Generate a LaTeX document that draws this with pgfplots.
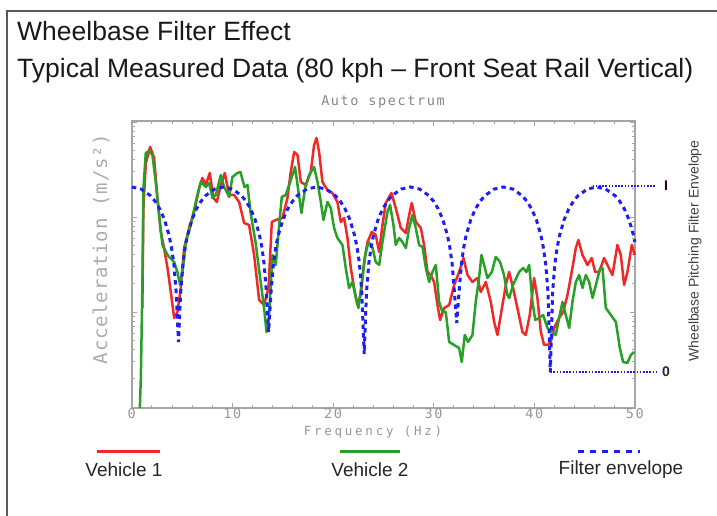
\documentclass[border=0pt]{standalone}
\usepackage{pgfplots}
\pgfplotsset{compat=1.18}
\usepackage{fontspec}
\setmainfont{Liberation Sans}
\newfontfamily\monof{DejaVu Sans Mono}[LetterSpace=22]
\newfontfamily\monot{DejaVu Sans Mono}[LetterSpace=12]
\newfontfamily\monoy{DejaVu Sans Mono}[LetterSpace=4]
\definecolor{vred}{RGB}{240,40,40}
\definecolor{vgreen}{RGB}{40,160,40}
\definecolor{vblue}{RGB}{30,30,245}
\definecolor{axgray}{RGB}{165,165,165}
\definecolor{txgray}{RGB}{150,150,150}
\begin{document}
\begin{tikzpicture}[x=1bp,y=1bp]
\path[use as bounding box] (0,0) rectangle (717,516);
\draw[black!65, line width=1.3bp] (7,0) -- (7,505) -- (717,505);
\node[anchor=base west, inner sep=0pt, font=\fontsize{26.5bp}{30bp}\selectfont, text=black!90] at (17,475) {Wheelbase Filter Effect};
\node[anchor=base west, inner sep=0pt, font=\fontsize{26.5bp}{30bp}\selectfont, text=black!90] at (17,438) {Typical Measured Data (80 kph – Front Seat Rail Vertical)};
\node[font=\monot\fontsize{13.5bp}{13bp}\selectfont, text=txgray!90!black] at (383,414) {Auto spectrum};
\node[font=\monof\fontsize{12.5bp}{12bp}\selectfont, text=txgray, inner sep=1bp] at (373,84) {Frequency (Hz)};
\node[rotate=90, font=\monoy\fontsize{19bp}{19bp}\selectfont, text=txgray!80] at (101,267) {Acceleration (m/s²)};
\node[rotate=90, font=\fontsize{14bp}{14bp}\selectfont, text=black!75] at (695,265) {Wheelbase Pitching Filter Envelope};
\begin{axis}[
  at={(131,108)}, anchor=south west,
  scale only axis, width=503bp, height=287bp,
  xmin=0, xmax=50, ymin=0, ymax=287,
  clip=false,
  axis line style={axgray, line width=1.6bp},
  tick style={axgray, line width=0.9bp},
  tick align=inside,
  major tick length=5bp, minor tick length=3bp,
  xtick={0,10,...,50}, minor xtick={2,4,6,8,12,14,16,18,22,24,26,28,32,34,36,38,42,44,46,48},
  xticklabel={\monot\pgfmathprintnumber[assume math mode=true]{\tick}},
  xticklabel style={text=txgray, font=\fontsize{13.5bp}{13bp}\selectfont, inner sep=0.5bp},
  ytick={1,96,191,286}, yticklabels={},
  minor ytick={29.6,46.3,58.2,67.4,74.9,81.3,86.8,91.6,124.6,141.3,153.2,162.4,169.9,176.3,181.8,186.6,219.6,236.3,248.2,257.4,264.9,271.3,276.8,281.6},
]
\addplot[vred, line width=2.5bp, line join=round] coordinates {
(1.05,100)(1.15,200)(1.4,245)(1.82,261)(2.22,250)(2.55,210)(2.88,176)(3.21,160)(3.55,140)(3.88,116)
(4.21,90)(4.54,96)(4.87,120)(5.2,160)(5.7,180)(6.2,196)(6.69,220)(7.02,230)(7.36,223)(7.75,235)
(8.12,210)(8.45,206)(8.85,223)(9.24,235)(9.68,213)(10.17,213)(10.67,206)(11.17,185)(11.66,183)(12.16,153)
(12.66,108)(13.15,103)(13.59,120)(13.92,186)(14.31,188)(14.98,190)(15.47,210)(15.80,236)(16.14,256)(16.47,253)
(16.8,226)(17.29,223)(17.79,236)(18.12,263)(18.36,270)(18.62,256)(18.95,226)(19.45,218)(19.94,215)(20.44,206)
(20.78,186)(21.11,190)(21.44,170)(21.77,140)(22.1,120)(22.43,103)(22.76,113)(23.1,146)(23.43,166)(23.86,176)
(24.25,173)(24.59,156)(24.92,183)(25.25,205)(25.81,215)(26.24,200)(26.74,180)(27.24,175)(27.57,193)(27.83,205)
(28.23,186)(28.73,180)(29.06,163)(29.39,136)(29.72,133)(30.05,126)(30.39,103)(30.65,88)(31.05,100)(31.55,103)
(32.04,123)(32.54,136)(32.97,150)(33.37,133)(33.86,126)(34.36,130)(34.69,116)(35.19,126)(35.69,106)(36.02,86)
(36.35,73)(36.68,93)(37.18,123)(37.51,136)(37.9,120)(38.33,100)(38.83,76)(39.16,73)(39.56,93)(39.99,130)
(40.32,110)(40.66,76)(40.99,63)(41.32,63)(41.65,66)(41.98,80)(42.48,90)(42.88,96)(43.31,113)(43.8,140)
(44.14,160)(44.4,168)(44.8,153)(45.3,143)(45.72,150)(46.06,136)(46.46,136)(46.95,150)(47.28,143)(47.78,133)
(48.27,163)(48.61,153)(48.94,123)(49.27,136)(49.7,163)(50.0,153)
};
\addplot[vgreen, line width=2.5bp, line join=round] coordinates {
(0.8,0)(0.9,30)(1.06,126)(1.16,220)(1.39,255)(1.72,257)(2.05,253)(2.38,226)(2.72,193)(3.05,163)
(3.55,153)(4.21,146)(4.54,136)(4.80,123)(5.04,136)(5.37,166)(5.86,183)(6.36,206)(6.86,226)(7.36,221)
(7.69,225)(8.02,210)(8.35,213)(8.85,233)(9.18,221)(9.68,211)(10.0,231)(10.5,235)(10.8,236)(11.2,221)
(11.5,223)(11.8,196)(12.3,166)(12.72,133)(13.15,100)(13.39,76)(13.65,93)(13.98,153)(14.31,143)(14.65,183)
(14.91,211)(15.31,213)(15.64,223)(15.97,233)(16.23,241)(16.57,216)(16.87,195)(17.23,220)(17.63,233)(18.12,241)
(18.46,226)(18.79,206)(19.05,188)(19.45,206)(19.78,200)(20.11,180)(20.44,170)(20.94,163)(21.27,140)(21.6,120)
(21.94,126)(22.27,110)(22.53,100)(22.87,126)(23.2,153)(23.53,166)(23.93,160)(24.25,146)(24.59,143)(24.92,166)
(25.25,186)(25.41,196)(25.68,203)(26.01,183)(26.24,163)(26.57,170)(26.9,166)(27.24,160)(27.57,180)(27.9,193)
(28.23,180)(28.56,163)(28.9,161)(29.23,140)(29.56,126)(29.89,136)(30.22,143)(30.55,106)(30.88,96)(31.21,96)
(31.55,66)(32.04,63)(32.54,60)(32.8,46)(33.1,73)(33.43,66)(33.86,73)(34.19,106)(34.52,130)(34.76,153)
(35.02,143)(35.35,130)(35.79,136)(36.18,151)(36.61,146)(37.0,133)(37.34,113)(37.51,110)(37.9,123)(38.5,136)
(38.9,140)(39.23,136)(39.5,143)(39.83,106)(40.1,88)(40.49,90)(40.89,93)(41.32,80)(41.75,76)(42.14,73)
(42.48,90)(42.81,106)(43.14,93)(43.48,80)(43.8,106)(44.14,126)(44.47,133)(44.8,120)(45.13,133)(45.46,126)
(45.8,110)(46.13,123)(46.56,140)(46.79,140)(47.12,100)(47.62,93)(48.12,86)(48.51,60)(48.84,46)(49.27,45)
(49.6,53)(49.93,56)
};
\addplot[vblue, line width=3bp, dash pattern=on 4.5bp off 4bp] coordinates {
(0,221)(0.93,218.9)(1.86,212.3)(2.32,206.7)(2.78,199.1)(3.25,188.4)(3.71,172.5)(3.94,161)(4.18,144.4)(4.41,116)
(4.64,66)(4.86,116)(5.09,144.4)(5.31,161)(5.54,172.5)(5.98,188.4)(6.43,199.1)(6.88,206.7)(7.33,212.3)(8.22,218.9)
(9.12,221)(10.02,218.9)(10.91,212.3)(11.36,206.7)(11.81,199.1)(12.26,188.4)(12.70,172.5)(12.93,161)(13.15,144.4)(13.38,116)
(13.6,76)(13.84,116)(14.08,144.4)(14.31,161)(14.55,172.5)(15.03,188.4)(15.5,199.1)(15.98,206.7)(16.45,212.3)(17.4,218.9)
(18.35,221)(19.3,218.9)(20.25,212.3)(20.73,206.7)(21.2,199.1)(21.68,188.4)(22.15,172.5)(22.39,161)(22.63,144.4)(22.86,116)
(23.1,54)(23.33,116)(23.56,144.4)(23.79,161)(24.02,172.5)(24.48,188.4)(24.94,199.1)(25.4,206.7)(25.86,212.3)(26.78,218.9)
(27.7,221)(28.62,218.9)(29.54,212.3)(30.0,206.7)(30.46,199.1)(30.92,188.4)(31.38,172.5)(31.61,161)(31.84,144.4)(32.07,116)
(32.3,85)(32.53,116)(32.77,144.4)(33.0,161)(33.23,172.5)(33.7,188.4)(34.16,199.1)(34.63,206.7)(35.09,212.3)(36.02,218.9)
(36.95,221)(37.88,218.9)(38.81,212.3)(39.28,206.7)(39.74,199.1)(40.21,188.4)(40.67,172.5)(40.9,161)(41.14,144.4)(41.37,116)
(41.6,36)(41.83,116)(42.06,144.4)(42.29,161)(42.52,172.5)(42.98,188.4)(43.44,199.1)(43.9,206.7)(44.36,212.3)(45.28,218.9)
(46.2,221)(47.12,218.9)(48.04,212.3)(48.5,206.7)(48.96,199.1)(49.42,188.4)(49.88,172.5)(50,166)
};
\draw[vblue, line width=1.6bp, dash pattern=on 1.6bp off 1.6bp] (axis cs:41.6,36) -- (axis cs:52.1,36);
\draw[vblue, line width=1.6bp, dash pattern=on 1.6bp off 1.6bp] (axis cs:45.8,222) -- (axis cs:52.1,222);
\node[font=\bfseries\fontsize{14bp}{14bp}\selectfont, text=black!80!red] at (axis cs:53.1,222) {I};
\node[font=\bfseries\fontsize{14bp}{14bp}\selectfont, text=black!85] at (axis cs:53.1,36) {0};
\end{axis}
\draw[vred, line width=3bp] (97,64) -- (160,64);
\draw[vgreen, line width=3bp] (340,64) -- (400,64);
\draw[vblue, line width=3bp, dash pattern=on 6bp off 6bp] (578,64) -- (640,64);
\node[font=\fontsize{19bp}{19bp}\selectfont, text=black!85] at (124,46) {Vehicle 1};
\node[font=\fontsize{19bp}{19bp}\selectfont, text=black!85] at (370,46) {Vehicle 2};
\node[font=\fontsize{19bp}{19bp}\selectfont, text=black!85] at (621,46) {Filter envelope};
\end{tikzpicture}
\end{document}
